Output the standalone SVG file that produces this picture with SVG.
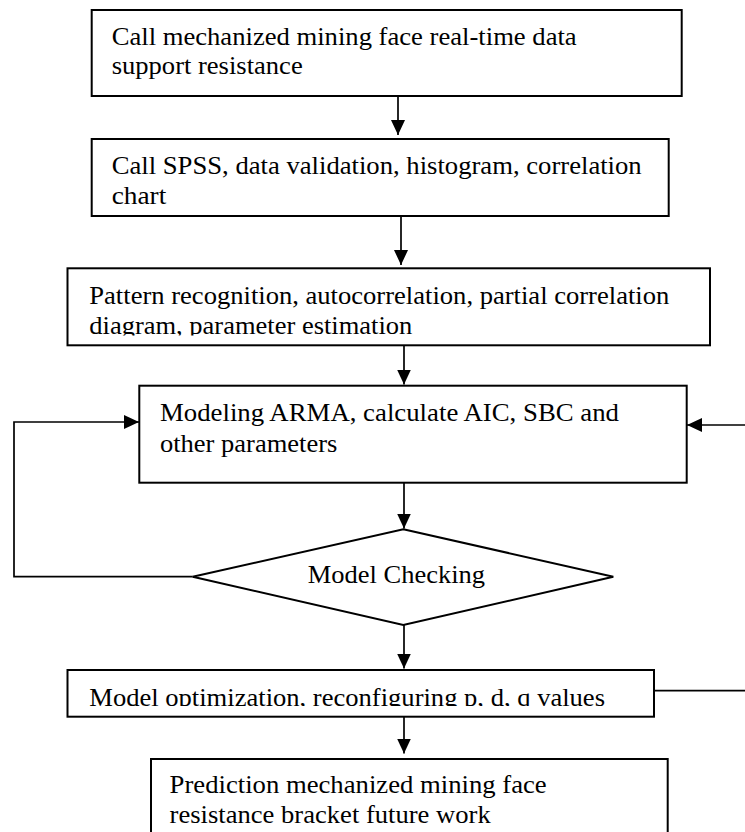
<svg xmlns="http://www.w3.org/2000/svg" width="745" height="832" viewBox="0 0 745 832">
<style>
.box{fill:#fff;stroke:#000;stroke-width:2}
.ln{fill:none;stroke:#000;stroke-width:1.7}
.t{font-family:"Liberation Serif","Times New Roman",serif;font-size:24.5px;fill:#000}
</style>
<defs>
<marker id="ah" markerUnits="userSpaceOnUse" markerWidth="15" markerHeight="14" refX="15" refY="7" orient="auto">
<path d="M0,0 L15,7 L0,14 z" fill="#000"/>
</marker>
<clipPath id="c3"><rect x="68" y="268" width="642" height="67.5"/></clipPath>
<clipPath id="c5"><rect x="68" y="670" width="586" height="36"/></clipPath>
</defs>
<rect width="745" height="832" fill="#fff"/>
<g id="connectors">
<line class="ln" x1="398" y1="97" x2="398" y2="135" marker-end="url(#ah)"/>
<line class="ln" x1="401" y1="216" x2="401" y2="265" marker-end="url(#ah)"/>
<line class="ln" x1="404" y1="342" x2="404" y2="384.5" marker-end="url(#ah)"/>
<line class="ln" x1="404" y1="483" x2="404" y2="528.5" marker-end="url(#ah)"/>
<line class="ln" x1="404" y1="625" x2="404" y2="668.5" marker-end="url(#ah)"/>
<line class="ln" x1="404" y1="714" x2="404" y2="753.5" marker-end="url(#ah)"/>
<polyline class="ln" points="192.7,576.7 14,576.7 14,422 139,422" marker-end="url(#ah)"/>
<line class="ln" x1="745" y1="425" x2="687" y2="425" marker-end="url(#ah)"/>
<line class="ln" x1="654" y1="690.7" x2="745" y2="690.7"/>
</g>
<g id="n1">
<rect class="box" x="91.7" y="10" width="590" height="86"/>
<text class="t" x="111.7" y="44.5" textLength="465" lengthAdjust="spacingAndGlyphs">Call mechanized mining face real-time data</text>
<text class="t" x="111.7" y="73.5" textLength="191" lengthAdjust="spacingAndGlyphs">support resistance</text>
</g>
<g id="n2">
<rect class="box" x="91.7" y="139" width="577" height="77"/>
<text class="t" x="111.7" y="173.5" textLength="530" lengthAdjust="spacingAndGlyphs">Call SPSS, data validation, histogram, correlation</text>
<text class="t" x="111.7" y="203.5" textLength="54.6" lengthAdjust="spacingAndGlyphs">chart</text>
</g>
<g id="n3">
<rect class="box" x="67.5" y="268.3" width="642.5" height="77"/>
<text class="t" x="89.3" y="303.5" textLength="580" lengthAdjust="spacingAndGlyphs">Pattern recognition, autocorrelation, partial correlation</text>
<text class="t" x="89.3" y="334" textLength="323" lengthAdjust="spacingAndGlyphs" clip-path="url(#c3)">diagram, parameter estimation</text>
</g>
<g id="n4">
<rect class="box" x="139.3" y="385.7" width="547.4" height="97"/>
<text class="t" x="160" y="420.5" textLength="459" lengthAdjust="spacingAndGlyphs">Modeling ARMA, calculate AIC, SBC and</text>
<text class="t" x="160" y="451.5" textLength="177.3" lengthAdjust="spacingAndGlyphs">other parameters</text>
</g>
<g id="n5">
<polygon class="box" points="403.3,529.3 613.3,576.7 403.3,625 192.7,576.7"/>
<text class="t" x="307.8" y="583.3" textLength="177.2" lengthAdjust="spacingAndGlyphs">Model Checking</text>
</g>
<g id="n6">
<rect class="box" x="67.5" y="670" width="586.5" height="46.7"/>
<text class="t" x="89.3" y="705.5" textLength="515.7" lengthAdjust="spacingAndGlyphs" clip-path="url(#c5)">Model optimization, reconfiguring p, d, q values</text>
</g>
<g id="n7">
<rect class="box" x="151" y="759" width="516.7" height="90"/>
<text class="t" x="169.6" y="793.3" textLength="377.1" lengthAdjust="spacingAndGlyphs">Prediction mechanized mining face</text>
<text class="t" x="169.6" y="823.3" textLength="321.1" lengthAdjust="spacingAndGlyphs">resistance bracket future work</text>
</g>
</svg>
